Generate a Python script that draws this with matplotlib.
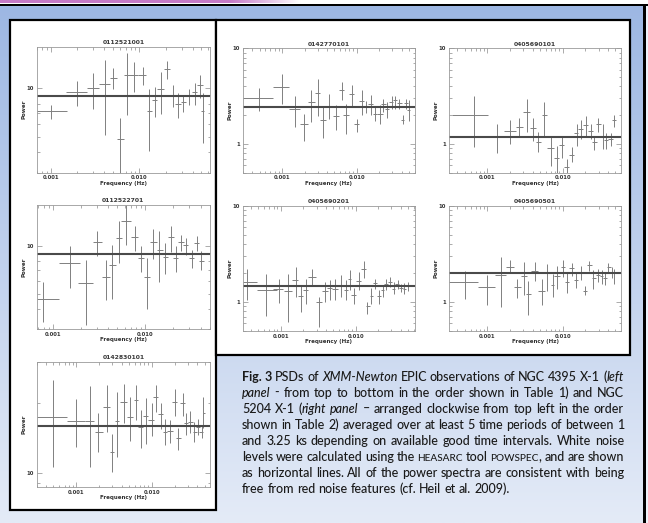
import re
import numpy as np
import matplotlib
matplotlib.use('Agg')
import matplotlib.pyplot as plt
from matplotlib.patches import Rectangle
from matplotlib.ticker import FixedLocator, FixedFormatter, NullFormatter, LogLocator

# ---- data (frequency in Hz, power) ----
# NGC 4395 X-1, obs 0112521001
l1_f = [0.001, 0.00196, 0.00303, 0.0041, 0.0051, 0.00605, 0.0072, 0.0087, 0.0109, 0.0130, 0.0150, 0.0174, 0.0203, 0.0238, 0.0275, 0.0313, 0.0366, 0.0425, 0.0483, 0.0518]
l1_flo = [0.000695, 0.00149, 0.00255, 0.00354, 0.00467, 0.00555, 0.00671, 0.00798, 0.00975, 0.0121, 0.0139, 0.0160, 0.0190, 0.0222, 0.0255, 0.0292, 0.0336, 0.0393, 0.0451, 0.0500]
l1_fhi = [0.00151, 0.00255, 0.00354, 0.00467, 0.00555, 0.00671, 0.00841, 0.00975, 0.0119, 0.0138, 0.0160, 0.0190, 0.0222, 0.0255, 0.0292, 0.0336, 0.0393, 0.0451, 0.0518, 0.0536]
l1_p = [7.2, 9.5, 10.0, 10.6, 11.6, 4.84, 12.1, 12.1, 12.1, 7.2, 8.47, 9.86, 13.1, 8.97, 8.0, 8.16, 8.97, 9.4, 10.5, 7.18]
l1_plo = [6.4, 7.8, 7.4, 5.15, 9.8, 2.9, 6.85, 9.5, 10.5, 4.06, 6.62, 6.95, 11.4, 7.65, 6.53, 7.08, 7.89, 7.89, 8.67, 4.57]
l1_phi = [7.9, 11.1, 12.4, 15.0, 13.3, 6.5, 16.4, 14.5, 13.5, 9.8, 10.2, 12.5, 14.6, 10.5, 9.31, 9.05, 9.8, 10.8, 12.1, 9.31]
l1_level = 8.89

# obs 0112522701
l2_f = [0.00078, 0.00154, 0.0023, 0.003, 0.00375, 0.00443, 0.00519, 0.00622, 0.0078, 0.00906, 0.0104, 0.0123, 0.0143, 0.0165, 0.0191, 0.0217, 0.0245, 0.0278, 0.032, 0.0363, 0.0404]
l2_flo = [0.000671, 0.00118, 0.0019, 0.00271, 0.0034, 0.00411, 0.00485, 0.0055, 0.007, 0.00847, 0.00975, 0.0113, 0.0134, 0.0155, 0.0179, 0.0203, 0.023, 0.026, 0.0302, 0.034, 0.0381]
l2_fhi = [0.00118, 0.00195, 0.00271, 0.0034, 0.00418, 0.00485, 0.00558, 0.007, 0.00847, 0.00975, 0.0113, 0.0134, 0.0155, 0.0179, 0.0206, 0.023, 0.0264, 0.0294, 0.034, 0.0388, 0.0436]
l2_p = [4.63, 7.78, 5.84, 10.5, 6.37, 7.6, 11.2, 14.2, 11.3, 8.37, 6.37, 10.5, 9.35, 8.5, 11.3, 8.37, 10.5, 10.1, 8.37, 10.4, 7.98]
l2_plo = [3.31, 5.43, 3.2, 8.58, 4.55, 4.6, 7.78, 10.1, 9.2, 6.8, 4.0, 8.25, 5.89, 6.68, 9.1, 6.8, 9.2, 8.8, 7.25, 9.2, 7.0]
l2_phi = [5.89, 9.9, 8.09, 12.3, 8.09, 10.1, 14.2, 18.0, 13.3, 9.9, 8.37, 12.7, 12.3, 10.4, 13.2, 9.9, 11.7, 11.2, 9.44, 11.5, 9.2]
l2_level = 8.91

# obs 0142830101
l3_f = [0.0005, 0.001, 0.0015, 0.00197, 0.00254, 0.00299, 0.00344, 0.00423, 0.00518, 0.00621, 0.00716, 0.00834, 0.01, 0.0114, 0.0132, 0.015, 0.0175, 0.02, 0.0225, 0.0257, 0.0284, 0.0321, 0.0363, 0.0414, 0.0458, 0.0482]
l3_flo = [0.0003, 0.000753, 0.00132, 0.00178, 0.00225, 0.00281, 0.00327, 0.00381, 0.00476, 0.00585, 0.00667, 0.00777, 0.00895, 0.0105, 0.0122, 0.014, 0.0161, 0.0184, 0.021, 0.0237, 0.0267, 0.0305, 0.0348, 0.0385, 0.0427, 0.0472]
l3_fhi = [0.000753, 0.00132, 0.00173, 0.00225, 0.00281, 0.00318, 0.00374, 0.00476, 0.00561, 0.00667, 0.00777, 0.00895, 0.0107, 0.0122, 0.0143, 0.0161, 0.019, 0.0214, 0.0242, 0.0276, 0.0305, 0.0348, 0.0394, 0.0436, 0.0482, 0.0507]
l3_p = [17.4, 16.7, 16.7, 15.0, 19.2, 12.3, 16.7, 20.2, 17.3, 20.6, 15.8, 17.5, 16.9, 21.1, 17.9, 15.0, 15.1, 20.2, 14.1, 20.0, 16.3, 16.6, 15.0, 15.8, 14.9, 18.1]
l3_plo = [10.6, 12.9, 10.6, 12.3, 15.0, 10.1, 11.7, 16.4, 13.7, 16.9, 12.8, 13.3, 14.4, 18.3, 15.4, 13.2, 13.4, 17.5, 12.5, 17.6, 14.5, 14.8, 13.6, 14.5, 14.1, 15.5]
l3_phi = [25.1, 20.7, 23.6, 18.0, 23.8, 14.7, 22.3, 24.1, 21.2, 23.8, 18.6, 20.9, 19.9, 23.8, 20.0, 17.0, 16.9, 22.9, 15.5, 22.1, 18.1, 18.5, 16.6, 17.1, 16.0, 21.1]
l3_level = 15.9

# NGC 5204 X-1, obs 0142770101
r1_f = [0.000497, 0.00099, 0.00149, 0.00199, 0.00244, 0.00301, 0.00351, 0.00431, 0.00528, 0.0063, 0.00719, 0.00857, 0.01, 0.0117, 0.0133, 0.0154, 0.0176, 0.0205, 0.0228, 0.0258, 0.0294, 0.0326, 0.0372, 0.0413, 0.0458, 0.0497]
r1_flo = [0.000297, 0.00075, 0.00125, 0.00174, 0.00225, 0.00277, 0.00323, 0.00388, 0.00487, 0.00586, 0.00662, 0.00798, 0.0092, 0.0109, 0.0125, 0.0143, 0.0164, 0.0189, 0.0209, 0.0239, 0.0274, 0.0303, 0.0351, 0.0388, 0.043, 0.0478]
r1_fhi = [0.00075, 0.00125, 0.00174, 0.00225, 0.00277, 0.00323, 0.00388, 0.00487, 0.00586, 0.00676, 0.00798, 0.0092, 0.0109, 0.0125, 0.0143, 0.0167, 0.0189, 0.0223, 0.0247, 0.0274, 0.031, 0.0351, 0.0401, 0.043, 0.0492, 0.0518]
r1_p = [3.05, 3.95, 2.32, 1.6, 2.72, 3.41, 1.79, 2.51, 1.94, 3.64, 1.99, 3.31, 1.6, 2.81, 2.47, 2.59, 2.07, 2.07, 2.59, 2.32, 2.75, 2.86, 2.68, 1.79, 2.68, 2.24]
r1_plo = [2.21, 2.59, 1.5, 1.07, 1.69, 1.94, 1.16, 1.83, 1.4, 2.86, 1.27, 2.47, 1.33, 1.99, 2.1, 1.99, 1.73, 1.62, 2.15, 1.88, 2.34, 2.34, 2.34, 1.6, 2.34, 1.73]
r1_phi = [3.89, 5.33, 3.15, 2.07, 3.7, 4.83, 2.43, 3.31, 2.53, 4.46, 2.59, 4.11, 1.83, 3.64, 2.81, 3.23, 2.43, 2.53, 2.98, 2.75, 3.15, 3.15, 2.98, 1.99, 2.98, 2.86]
r1_level = 2.43

# obs 0405690101
r2_f = [0.000665, 0.00133, 0.002, 0.00266, 0.00333, 0.004, 0.00475, 0.00571, 0.00693, 0.00832, 0.0097, 0.0113, 0.0132, 0.0153, 0.0175, 0.0204, 0.0236, 0.0263, 0.0297, 0.034, 0.0376, 0.0434, 0.048]
r2_flo = [0.000337, 0.00103, 0.00166, 0.0024, 0.00301, 0.00368, 0.00443, 0.00526, 0.00625, 0.00767, 0.00904, 0.0104, 0.0122, 0.0141, 0.0161, 0.0188, 0.0219, 0.0243, 0.0277, 0.0313, 0.0354, 0.0404, 0.0447]
r2_fhi = [0.00103, 0.00166, 0.0024, 0.00301, 0.00368, 0.00443, 0.0051, 0.00625, 0.00767, 0.00904, 0.0104, 0.0122, 0.0141, 0.0161, 0.0188, 0.0219, 0.0255, 0.0283, 0.0319, 0.0365, 0.0404, 0.0461, 0.051]
r2_p = [2.02, 1.19, 1.38, 1.52, 2.15, 1.46, 1.04, 2.02, 0.91, 0.72, 0.98, 0.57, 0.77, 1.29, 1.44, 1.56, 1.38, 1.04, 1.62, 1.22, 1.1, 1.13, 1.79]
r2_plo = [0.92, 0.8, 1.0, 1.19, 1.33, 1.08, 0.82, 1.18, 0.59, 0.5, 0.72, 0.5, 0.64, 0.96, 1.12, 1.22, 1.12, 0.86, 1.33, 0.89, 0.89, 0.96, 1.52]
r2_phi = [3.15, 1.6, 1.76, 1.88, 2.98, 1.88, 1.33, 2.75, 1.22, 0.96, 1.19, 0.69, 0.92, 1.6, 1.76, 1.94, 1.63, 1.22, 1.88, 1.6, 1.3, 1.3, 2.02]
r2_level = 1.19

# obs 0405690201
r3_f = [0.000348, 0.00063, 0.00095, 0.00125, 0.00158, 0.00185, 0.00215, 0.00264, 0.00324, 0.00394, 0.0045, 0.00536, 0.00631, 0.00736, 0.00832, 0.0094, 0.0111, 0.0128, 0.0143, 0.0162, 0.0183, 0.0205, 0.0231, 0.0257, 0.029, 0.0324, 0.0366, 0.041, 0.045, 0.0499]
r3_flo = [0.000308, 0.000474, 0.00079, 0.0011, 0.00143, 0.0017, 0.00199, 0.00231, 0.00299, 0.0036, 0.00415, 0.00489, 0.00581, 0.00692, 0.0079, 0.00875, 0.0102, 0.0119, 0.0136, 0.0154, 0.017, 0.0192, 0.022, 0.0244, 0.027, 0.0308, 0.0341, 0.0386, 0.0437, 0.0474]
r3_fhi = [0.000474, 0.000875, 0.00107, 0.00143, 0.0017, 0.00199, 0.00231, 0.00299, 0.0036, 0.00428, 0.00489, 0.00581, 0.00692, 0.0079, 0.00875, 0.0102, 0.0119, 0.0136, 0.0154, 0.017, 0.0192, 0.022, 0.0244, 0.027, 0.0308, 0.0341, 0.0386, 0.0437, 0.0474, 0.0514]
r3_p = [1.62, 1.35, 1.38, 1.3, 1.71, 1.17, 1.32, 1.83, 1.0, 1.3, 1.41, 1.38, 1.49, 1.35, 1.75, 1.19, 1.66, 2.23, 0.9, 1.17, 1.58, 1.15, 1.32, 1.53, 1.62, 1.38, 1.53, 1.41, 1.38, 1.49]
r3_plo = [1.04, 0.71, 0.98, 0.62, 1.13, 0.79, 0.95, 1.49, 0.55, 1.0, 1.06, 1.06, 1.13, 1.04, 1.32, 0.96, 1.32, 1.8, 0.76, 0.95, 1.38, 0.96, 1.13, 1.32, 1.43, 1.2, 1.38, 1.27, 1.22, 1.3]
r3_phi = [2.23, 1.95, 1.75, 1.95, 2.32, 1.49, 1.75, 2.23, 1.13, 1.62, 1.69, 1.75, 1.9, 1.69, 2.18, 1.41, 2.06, 2.68, 1.0, 1.41, 1.75, 1.35, 1.5, 1.73, 1.83, 1.6, 1.69, 1.53, 1.57, 1.6]
r3_level = 1.46

# obs 0405690501
r4_f = [0.000506, 0.001, 0.0015, 0.002, 0.0025, 0.00307, 0.0035, 0.0043, 0.00526, 0.00625, 0.00736, 0.0085, 0.01, 0.0115, 0.0132, 0.015, 0.0173, 0.0198, 0.0226, 0.0255, 0.0292, 0.033, 0.0365, 0.0404, 0.0452, 0.0485]
r4_flo = [0.00031, 0.00076, 0.00126, 0.00177, 0.00226, 0.00277, 0.00326, 0.00376, 0.00475, 0.00582, 0.00693, 0.00767, 0.0094, 0.0107, 0.0122, 0.0141, 0.0161, 0.0184, 0.0212, 0.0243, 0.0277, 0.0313, 0.034, 0.0384, 0.0425, 0.0461]
r4_fhi = [0.00076, 0.00126, 0.00177, 0.00226, 0.00277, 0.00333, 0.00376, 0.00475, 0.00582, 0.00693, 0.00767, 0.00923, 0.0107, 0.0122, 0.0141, 0.0161, 0.0188, 0.0208, 0.0243, 0.0277, 0.0313, 0.0347, 0.0384, 0.0434, 0.048, 0.051]
r4_p = [1.6, 1.44, 1.92, 2.34, 1.42, 1.88, 1.2, 2.09, 1.31, 1.99, 1.51, 1.88, 2.34, 1.62, 2.26, 1.69, 2.04, 1.31, 2.45, 1.77, 1.92, 1.88, 1.77, 2.3, 2.04, 1.99]
r4_plo = [1.07, 0.93, 0.89, 1.99, 1.09, 1.18, 0.74, 1.66, 0.93, 1.31, 1.13, 1.36, 1.83, 1.25, 1.88, 1.4, 1.71, 1.18, 2.1, 1.38, 1.62, 1.55, 1.5, 1.99, 1.77, 1.55]
r4_phi = [2.12, 1.92, 2.93, 2.75, 1.73, 2.59, 1.66, 2.59, 1.73, 2.49, 1.95, 2.39, 2.75, 2.04, 2.55, 2.05, 2.38, 1.48, 2.7, 2.14, 2.2, 2.15, 2.07, 2.55, 2.34, 2.23]
r4_level = 1.99

caption = [
    "**Fig.** **3** PSDs of *XMM-Newton* EPIC observations of NGC 4395 X-1 (*left*",
    "*panel* - from top to bottom in the order shown in Table 1) and NGC",
    "5204 X-1 (*right* *panel* \u2013 arranged clockwise from top left in the order",
    "shown in Table 2) averaged over at least 5 time periods of between 1",
    "and 3.25 ks depending on available good time intervals. White noise",
    "levels were calculated using the ^heasarc^ tool ^powspec^, and are shown",
    "as horizontal lines. All of the power spectra are consistent with being",
    "free from red noise features (cf. Heil et al. 2009).",
]

W, H = 648, 523
fig = plt.figure(figsize=(W / 100, H / 100), dpi=100)

# ---- poster background ----
bg = fig.add_axes([0, 0, 1, 1], zorder=-5)
bg.axis('off')
c_top = np.array([157, 183, 227]) / 255
c_bot = np.array([228, 235, 247]) / 255
t = np.linspace(0, 1, 256)[:, None]
grad = c_top + (c_bot - c_top) * t
bg.imshow(grad[:, None, :], extent=[0, W, H, 5], aspect='auto', interpolation='bilinear')
purple = np.array([198, 122, 198]) / 255
xs = np.linspace(0, W, 400)
wgt = np.clip((xs - 230) / 70, 0, 1)[:, None]
band = purple * (1 - wgt) + wgt
bg.imshow(band[None, :, :], extent=[0, W, 3.5, 0], aspect='auto', interpolation='bilinear')
bg.add_patch(Rectangle((0, 3.5), W, 2, color='black', lw=0))
bg.add_patch(Rectangle((643, 3.5), 3, H, color='black', lw=0))
bg.add_patch(Rectangle((646, 5.5), 2, H, color='#eef2fa', lw=0))
bg.add_patch(Rectangle((10, 20), 206, 490, fc='white', ec='black', lw=1.6))
bg.add_patch(Rectangle((216, 20), 414, 335, fc='white', ec='black', lw=1.6))
bg.set_xlim(0, W)
bg.set_ylim(H, 0)


def psd(box, title, f, flo, fhi, p, plo, phi, level, xlim, ylim, yt, ytl):
    x0, x1, y0, y1 = box
    ax = fig.add_axes([x0 / W, 1 - y1 / H, (x1 - x0) / W, (y1 - y0) / H])
    f, flo, fhi = np.array(f), np.array(flo), np.array(fhi)
    p, plo, phi = np.array(p), np.array(plo), np.array(phi)
    ax.set_xscale('log')
    ax.set_yscale('log')
    ax.errorbar(f, p, xerr=[f - flo, fhi - f], yerr=[p - plo, phi - p], fmt='none',
                ecolor='#808080', elinewidth=0.7, capsize=0)
    ax.axhline(level, color='#4a4a4a', lw=1.5)
    ax.set_xlim(xlim)
    ax.set_ylim(ylim)
    ax.xaxis.set_major_locator(FixedLocator([0.001, 0.01]))
    ax.xaxis.set_major_formatter(FixedFormatter(['0.001', '0.010']))
    ax.yaxis.set_major_locator(FixedLocator(yt))
    ax.yaxis.set_major_formatter(FixedFormatter(ytl))
    for a in (ax.xaxis, ax.yaxis):
        a.set_minor_locator(LogLocator(base=10, subs=np.arange(2, 10)))
        a.set_minor_formatter(NullFormatter())
    ax.tick_params(which='both', direction='in', top=True, right=True, color='#8a8a8a',
                   width=0.5, labelsize=3.8, pad=2, labelcolor='#333333')
    ax.tick_params(which='major', length=3.5)
    ax.tick_params(which='minor', length=1.8)
    for lab in ax.get_xticklabels() + ax.get_yticklabels():
        lab.set_fontweight('bold')
    for sp in ax.spines.values():
        sp.set_color('#9a9a9a')
        sp.set_linewidth(0.6)
    ax.set_title(title, fontsize=4.4, pad=2, fontweight='bold', color='#3a3a3a')
    ax.set_xlabel('Frequency (Hz)', fontsize=4, fontweight='bold', color='#333333')
    ax.set_ylabel('Power', fontsize=4, fontweight='bold', color='#333333')
    ax.xaxis.set_label_coords(0.5, -8.5 / (y1 - y0))
    ax.yaxis.set_label_coords(-10.5 / (x1 - x0), 0.5)
    return ax


psd((36.7, 210, 46.7, 172.7), '0112521001', l1_f, l1_flo, l1_fhi, l1_p, l1_plo, l1_phi,
    l1_level, (0.000695, 0.0627), (3, 18), [10], ['10'])
psd((36.7, 210, 205, 329), '0112522701', l2_f, l2_flo, l2_fhi, l2_p, l2_plo, l2_phi,
    l2_level, (0.00067, 0.0506), (3, 18), [10], ['10'])
psd((36.7, 210, 362, 487), '0142830101', l3_f, l3_flo, l3_fhi, l3_p, l3_plo, l3_phi,
    l3_level, (0.0003, 0.059), (8.67, 30), [10], ['10'])
psd((242.7, 415, 48.3, 172.7), '0142770101', r1_f, r1_flo, r1_fhi, r1_p, r1_plo, r1_phi,
    r1_level, (0.000297, 0.0604), (0.5, 10), [1, 10], ['1', '10'])
psd((449, 621, 48.3, 172.7), '0405690101', r2_f, r2_flo, r2_fhi, r2_p, r2_plo, r2_phi,
    r2_level, (0.00031, 0.0594), (0.5, 10), [1, 10], ['1', '10'])
psd((242.7, 415, 206, 331), '0405690201', r3_f, r3_flo, r3_fhi, r3_p, r3_plo, r3_phi,
    r3_level, (0.000308, 0.0625), (0.5, 10), [1, 10], ['1', '10'])
psd((449, 621, 206, 331), '0405690501', r4_f, r4_flo, r4_fhi, r4_p, r4_plo, r4_phi,
    r4_level, (0.00031, 0.0594), (0.5, 10), [1, 10], ['1', '10'])

# ---- justified caption ----
renderer = fig.canvas.get_renderer()
FONT = ['Lato', 'DejaVu Sans']


def props(style, fs):
    d = dict(family=FONT, fontsize=fs, color='#1a1a1a', fontweight='medium')
    if style == 'b':
        d['fontweight'] = 'bold'
    elif style == 'i':
        d['fontstyle'] = 'italic'
    elif style == 's':
        d['fontsize'] = fs * 0.8
    return d


def parse(word):
    segs = []
    for part in re.split(r'(\*\*.+?\*\*|\*.+?\*|\^.+?\^)', word):
        if not part:
            continue
        if part.startswith('**'):
            segs.append((part[2:-2], 'b'))
        elif part.startswith('*'):
            segs.append((part[1:-1], 'i'))
        elif part.startswith('^'):
            segs.append((part[1:-1].upper(), 's'))
        else:
            segs.append((part, 'n'))
    return segs


def width(txt, style, fs):
    tt = fig.text(0, 0, txt, **props(style, fs))
    w = tt.get_window_extent(renderer).width
    tt.remove()
    return w


x_left, x_right = 242, 624
# font size: a bit larger than the last line's width implies, but every line must fit
ref = width(caption[-1], 'n', 10)
fs = 10 * 278 / ref
for line in caption[:-1]:
    nat = sum(width(s, st, 10) for wd in line.split(' ') for s, st in parse(wd))
    nat += (len(line.split(' ')) - 1) * (width('a a', 'n', 10) - width('aa', 'n', 10)) * 0.8
    fs = min(fs, 10 * (x_right - x_left) / nat)
space = width('a a', 'n', fs) - width('aa', 'n', fs)
for i, line in enumerate(caption):
    words = [parse(w) for w in line.split(' ')]
    wws = [[width(s, st, fs) for s, st in wd] for wd in words]
    tot = sum(sum(w) for w in wws)
    if i < len(caption) - 1:
        gap = (x_right - x_left - tot) / (len(words) - 1)
    else:
        gap = space
    x = x_left
    yb = 381 + 16 * i
    for wd, ww in zip(words, wws):
        for (s, st), w in zip(wd, ww):
            fig.text(x / W, 1 - yb / H, s, va='baseline', ha='left', **props(st, fs))
            x += w
        x += gap

fig.savefig('out.png', dpi=100)
